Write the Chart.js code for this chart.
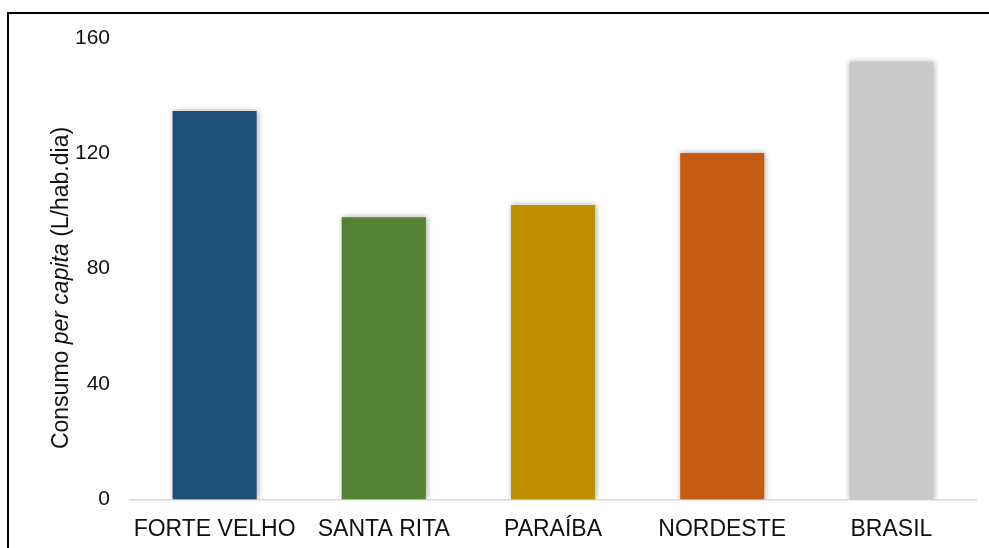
<!DOCTYPE html>
<html>
<head>
<meta charset="utf-8">
<script src="https://cdn.jsdelivr.net/npm/chart.js@4"></script>
<style>
  html, body { margin: 0; padding: 0; background: #fff; overflow: hidden; }
  .frame { position: absolute; left: 7px; top: 12px; width: 1100px; height: 700px;
           border-left: 2px solid #000; border-top: 2px solid #000; }
  .wrap { position: absolute; left: 0; top: 0; width: 989px; height: 559px; }
</style>
</head>
<body>
<div class="frame"></div>
<div class="wrap"><canvas id="chart"></canvas></div>
<script>
// per capita water consumption by locality
var categories = ['FORTE VELHO', 'SANTA RITA', 'PARAÍBA', 'NORDESTE', 'BRASIL']
var consumo = [134.7, 97.8, 102.1, 120.1, 151.8]
var barColors = ['#1f4e79', '#548235', '#bf9000', '#c55a11', '#c9c9c9']
var yMin = 0
var yMax = 160
var yStep = 40

var FONT = "'Liberation Sans', Arial, sans-serif"

// soft drop shadow behind the bars
var barShadow = {
  id: 'barShadow',
  beforeDatasetsDraw (chart) {
    var ctx = chart.ctx
    ctx.save()
    ctx.shadowColor = 'rgba(0,0,0,0.35)'
    ctx.shadowBlur = 6
    ctx.shadowOffsetX = 1
    ctx.shadowOffsetY = 0
  },
  afterDatasetsDraw (chart) {
    chart.ctx.restore()
  }
}

// y axis title with "per capita" in italics
var yTitle = {
  id: 'yTitle',
  afterDraw (chart) {
    var ctx = chart.ctx
    var parts = [
      { text: 'Consumo ', font: '23px ' + FONT },
      { text: 'per capita', font: 'italic 23px ' + FONT },
      { text: ' (L/hab.dia)', font: '23px ' + FONT }
    ]
    var total = 0
    parts.forEach(p => {
      ctx.font = p.font
      p.w = ctx.measureText(p.text).width
      total += p.w
    })
    ctx.save()
    ctx.translate(62, 288)
    ctx.rotate(-Math.PI / 2)
    ctx.fillStyle = '#111'
    ctx.textBaseline = 'middle'
    ctx.textAlign = 'left'
    var x = -total / 2
    parts.forEach(p => {
      ctx.font = p.font
      ctx.fillText(p.text, x, 0)
      x += p.w
    })
    ctx.restore()
  }
}

new Chart(document.getElementById('chart'), {
  type: 'bar',
  data: {
    labels: categories,
    datasets: [{
      data: consumo,
      backgroundColor: barColors,
      borderWidth: 0,
      categoryPercentage: 1,
      barPercentage: 0.497
    }]
  },
  options: {
    responsive: true,
    maintainAspectRatio: false,
    animation: false,
    events: [],
    layout: { padding: { left: 0, right: 13, top: 38, bottom: 0 } },
    plugins: {
      legend: { display: false },
      tooltip: { enabled: false }
    },
    scales: {
      x: {
        offset: true,
        grid: { display: false, drawTicks: false },
        border: { display: true, color: '#d9d9d9', width: 1.5 },
        ticks: { color: '#111', padding: 16, font: { family: FONT, size: 23 }, maxRotation: 0, autoSkip: false }
      },
      y: {
        min: yMin,
        max: yMax,
        grid: { display: false, drawTicks: false },
        border: { display: false },
        ticks: { stepSize: yStep, color: '#111', padding: 20, font: { family: FONT, size: 21 } },
        afterFit (scale) { scale.width = 130 }
      }
    }
  },
  plugins: [barShadow, yTitle]
})
</script>
</body>
</html>
